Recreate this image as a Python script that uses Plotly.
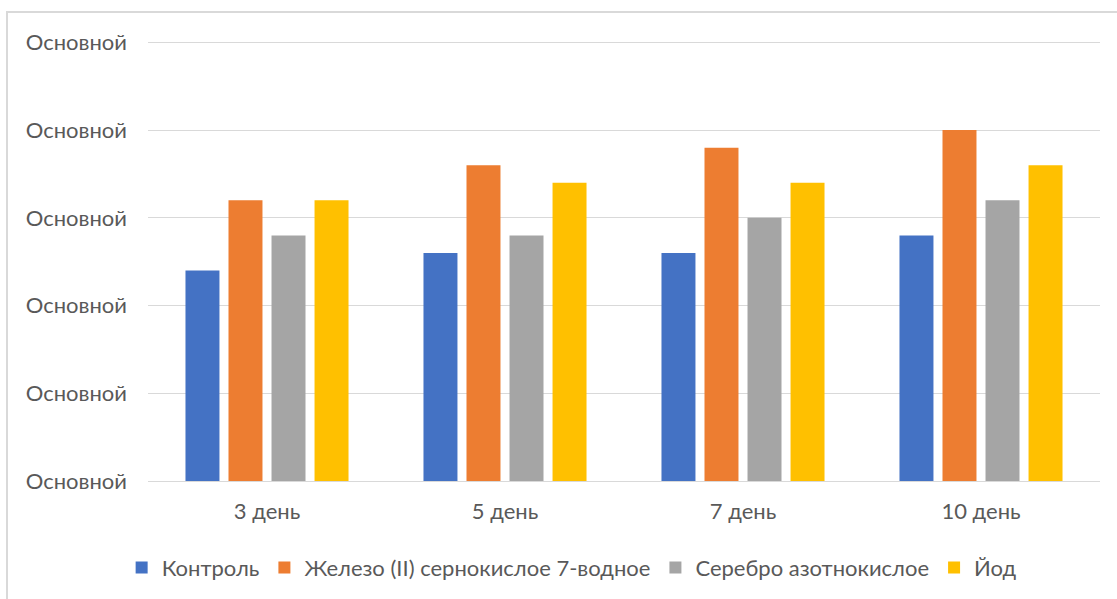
import plotly.graph_objects as go

categories = ["3 день", "5 день", "7 день", "10 день"]
series_names = ["Контроль", "Железо (II) сернокислое 7-водное", "Серебро азотнокислое", "Йод"]
control = [2.4, 2.6, 2.6, 2.8]
iron = [3.2, 3.6, 3.8, 4.0]
silver = [2.8, 2.8, 3.0, 3.2]
iodine = [3.2, 3.4, 3.4, 3.6]
y_tick_values = [0, 1, 2, 3, 4, 5]
y_tick_labels = ["Основной"] * 6

colors = ["#4472C4", "#ED7D31", "#A5A5A5", "#FFC000"]
series_values = [control, iron, silver, iodine]

fig = go.Figure()
for name, vals, col in zip(series_names, series_values, colors):
    fig.add_trace(go.Bar(x=categories, y=vals, name=name, marker=dict(color=col, line=dict(width=0))))

font_family = "Lato, 'Open Sans', sans-serif"
fs = 22
fig.update_layout(
    width=1117, height=599,
    margin=dict(l=148, r=17, t=38, b=117),
    paper_bgcolor="white", plot_bgcolor="white",
    barmode="group", bargap=0.277, bargroupgap=0.21,
    font=dict(family=font_family, size=fs, color="#595959"),
    showlegend=True,
    legend=dict(orientation="h", x=0.445, xanchor="center", y=-0.193, yanchor="middle",
                font=dict(size=fs, color="#595959"), itemwidth=30, traceorder="normal"),
    xaxis=dict(showgrid=False, showline=True, linecolor="#D9D9D9", linewidth=1,
               ticks="", ticklabelstandoff=11, tickfont=dict(size=fs, color="#595959")),
    yaxis=dict(range=[0, 5.05], tickvals=y_tick_values, ticktext=y_tick_labels,
               showgrid=True, gridcolor="#D9D9D9", gridwidth=1, zeroline=False,
               showline=False, ticks="", ticklabelstandoff=20,
               tickfont=dict(size=fs, color="#595959")),
    shapes=[dict(type="rect", xref="paper", yref="paper",
                 x0=(7 - 148) / 952, x1=(1130 - 148) / 952,
                 y0=(482 - 610) / 444, y1=(482 - 12) / 444,
                 line=dict(color="#D9D9D9", width=2), fillcolor="rgba(0,0,0,0)", layer="below")],
)

fig.write_html("out.html")
